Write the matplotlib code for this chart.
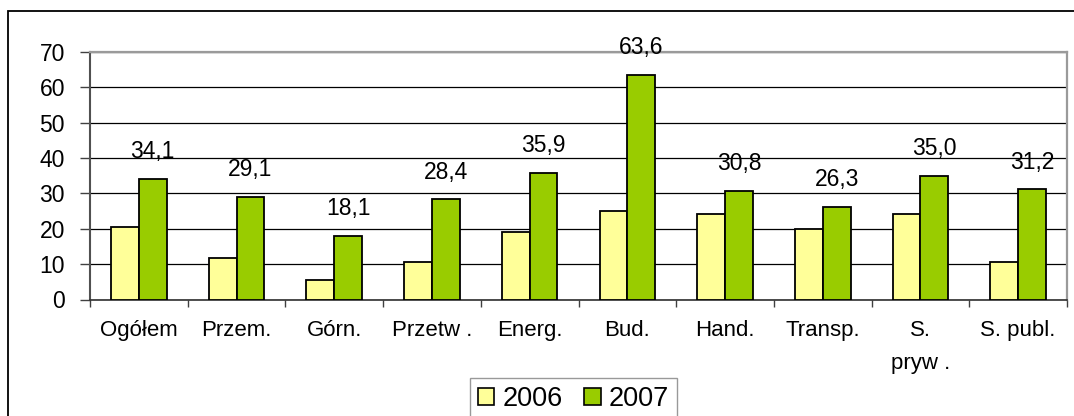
import numpy as np
import matplotlib
matplotlib.use("Agg")
import matplotlib.pyplot as plt
from matplotlib.patches import Patch, Rectangle

categories = ["Ogółem", "Przem.", "Górn.", "Przetw .", "Energ.", "Bud.",
              "Hand.", "Transp.", "S.\npryw .", "S. publ."]
series_names = ["2006", "2007"]
values_2006 = [20.6, 11.6, 5.5, 10.5, 19.0, 25.1, 24.1, 20.0, 24.1, 10.5]
values_2007 = [34.1, 29.1, 18.1, 28.4, 35.9, 63.6, 30.8, 26.3, 35.0, 31.2]
y_ticks = [0, 10, 20, 30, 40, 50, 60, 70]

plt.rcParams['font.family'] = ['Liberation Sans', 'DejaVu Sans']

W, H = 1074, 416
fig = plt.figure(figsize=(W / 100, H / 100), dpi=100)
ax = fig.add_axes([90 / W, 1 - 299.5 / H, (1067 - 90) / W, (299.5 - 52) / H])

x = np.arange(len(categories))
w = 0.285
ax.bar(x - w / 2, values_2006, width=w, color="#FFFF99", edgecolor="black",
       linewidth=1.3, zorder=3, label=series_names[0])
ax.bar(x + w / 2, values_2007, width=w, color="#99CC00", edgecolor="black",
       linewidth=1.3, zorder=3, label=series_names[1])

for xi, v in zip(x, values_2007):
    ax.annotate(f"{v:.1f}".replace(".", ","), (xi + w / 2, v),
                xytext=(0, 19.5), textcoords="offset points",
                ha="center", va="center", fontsize=16.5, zorder=4)

ax.set_xlim(-0.5, len(categories) - 0.5)
ax.set_ylim(0, 70)
ax.set_yticks(y_ticks)
ax.set_yticklabels([str(t) for t in y_ticks], fontsize=16.5)
ax.yaxis.grid(True, color="black", linewidth=0.9, zorder=0)
ax.set_axisbelow(True)

ax.set_xticks(x)
ax.set_xticklabels(categories, fontsize=16, linespacing=1.75, va="top")
ax.set_xticks(np.arange(-0.5, len(categories)), minor=True)
ax.tick_params(axis="x", which="major", length=0, pad=15)
ax.tick_params(axis="x", which="minor", length=5, width=1, color="#404040", direction="out")
ax.tick_params(axis="y", which="major", length=7, width=1, color="#404040", direction="out", pad=11)

ax.spines["left"].set_color("#505050")
ax.spines["left"].set_linewidth(1.5)
ax.spines["bottom"].set_color("#303030")
ax.spines["bottom"].set_linewidth(1.2)
ax.spines["top"].set_color("#9a9a9a")
ax.spines["top"].set_linewidth(1.6)
ax.spines["right"].set_color("#9a9a9a")
ax.spines["right"].set_linewidth(1.6)

handles = [Patch(facecolor="#FFFF99", edgecolor="black", linewidth=1.2, label=series_names[0]),
           Patch(facecolor="#99CC00", edgecolor="black", linewidth=1.2, label=series_names[1])]
leg = fig.legend(handles=handles, loc="upper left", bbox_to_anchor=(470 / W, 1 - 378 / H),
                 ncol=2, frameon=True, fancybox=False, fontsize=19.5,
                 handlelength=0.6, handleheight=0.6, handletextpad=0.3,
                 columnspacing=0.8, borderpad=0.3, borderaxespad=0)
leg.get_frame().set_edgecolor("#808080")
leg.get_frame().set_linewidth(1.0)

frame = Rectangle((8 / W, -0.1), 1.2, (1 - 10.5 / H) + 0.1, transform=fig.transFigure,
                  fill=False, edgecolor="black", linewidth=1.3)
fig.add_artist(frame)

fig.savefig("out.png", dpi=100)
